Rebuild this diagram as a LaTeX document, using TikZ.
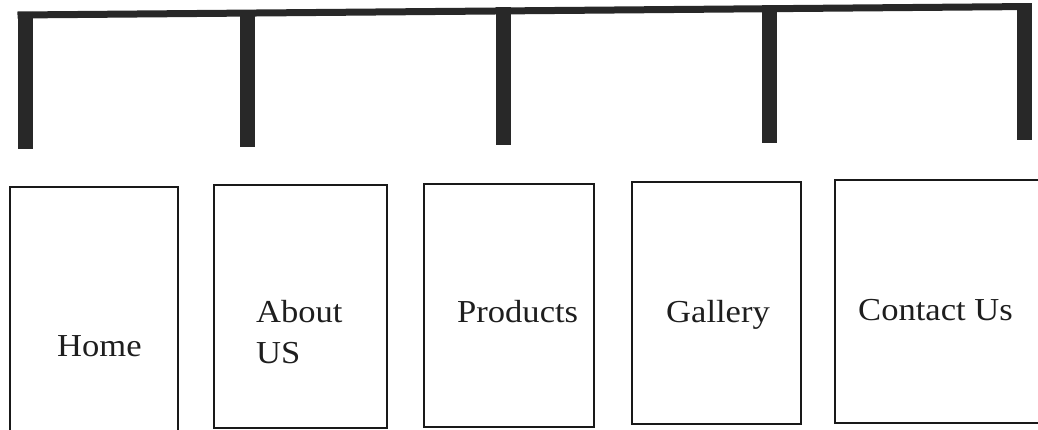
\documentclass[tikz,border=0pt]{standalone}
\usepackage{fontspec}
\setmainfont{Liberation Serif}[FakeStretch=1.08]
\definecolor{barc}{RGB}{40,40,40}
\definecolor{boxc}{RGB}{25,25,25}
\definecolor{txtc}{RGB}{30,30,30}
\begin{document}
\begin{tikzpicture}[x=1pt,y=-1pt,
  barline/.style={draw=barc, line width=7pt},
  legline/.style={draw=barc, line width=15pt},
  pagebox/.style={draw=boxc, line width=1.8pt, rectangle, inner sep=0pt},
  lbl/.style={inner sep=0pt, anchor=base west, text=txtc, font=\fontsize{32}{41}\selectfont}
]
\useasboundingbox (0,0) rectangle (1038,429);
\clip (0,0) rectangle (1038,429);
% top bar
\coordinate (b1) at (17.5,15);
\coordinate (b5) at (1031.5,6.5);
\draw[barline] (b1) -- (b5);
% legs
\coordinate (t1) at (25,11.5);   \coordinate (e1) at (25,149);
\coordinate (t2) at (247.5,9.6); \coordinate (e2) at (247.5,147);
\coordinate (t3) at (503.5,7.4); \coordinate (e3) at (503.5,145);
\coordinate (t4) at (769,5.2);   \coordinate (e4) at (769,143);
\coordinate (t5) at (1024,3);    \coordinate (e5) at (1024,140);
\draw[legline] (t1) -- (e1);
\draw[legline] (t2) -- (e2);
\draw[legline] (t3) -- (e3);
\draw[legline] (t4) -- (e4);
\draw[legline] (t5) -- (e5);
% boxes
\node[pagebox, minimum width=168pt, minimum height=248pt] (home) at (94,311) {};
\node[pagebox, minimum width=173pt, minimum height=243pt] (about) at (300.5,306.5) {};
\node[pagebox, minimum width=170pt, minimum height=243pt] (products) at (509,305.5) {};
\node[pagebox, minimum width=169pt, minimum height=242pt] (gallery) at (716.5,303) {};
\node[pagebox, minimum width=213pt, minimum height=243pt] (contact) at (941.5,301.5) {};
% labels
\node[lbl] (homet) at (57,356) {Home};
\node[lbl] (aboutt) at (256,322) {About};
\node[lbl] (ust) at (256,363) {US};
\node[lbl] (prodt) at (457,322) {Products};
\node[lbl] (gallt) at (666,322) {Gallery};
\node[lbl] (contt) at (858,320) {Contact Us};
\end{tikzpicture}
\end{document}
